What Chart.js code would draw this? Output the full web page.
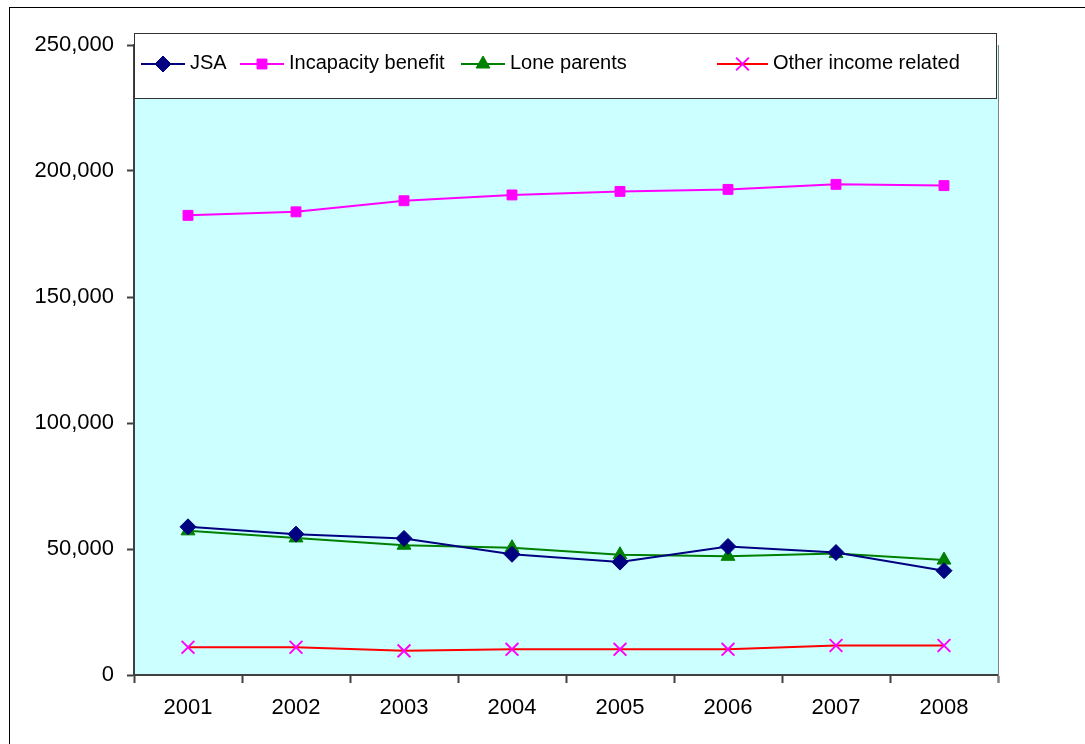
<!DOCTYPE html>
<html>
<head>
<meta charset="utf-8">
<title>Benefit claimants 2001-2008</title>
<script src="https://cdn.jsdelivr.net/npm/chart.js@4.4.1/dist/chart.umd.min.js"></script>
<style>
  html, body { margin: 0; padding: 0; background: #ffffff; }
  canvas { display: block; }
</style>
</head>
<body>
<canvas id="claimantsChart" width="1085" height="744"></canvas>
<script>
const years = ["2001", "2002", "2003", "2004", "2005", "2006", "2007", "2008"];
const jsa = [58800, 55900, 54200, 47900, 44800, 51000, 48600, 41400];
const incapacityBenefit = [182400, 183800, 188200, 190500, 191900, 192700, 194700, 194200];
const loneParents = [57200, 54400, 51500, 50500, 47700, 47100, 48200, 45600];
const otherIncomeRelated = [11000, 11000, 9600, 10200, 10200, 10200, 11700, 11700];
const yTicks = [0, 50000, 100000, 150000, 200000, 250000];

const FONT = "'Liberation Sans', Arial, sans-serif";

// legend entries: where each sample line starts and ends
const legendLineStart = [141, 240, 461, 717];
const legendLineEnd = [185, 284, 505, 768];

// plot background, legend box and the outer frame
const chartDecor = {
    id: "chartDecor",
    beforeDraw(chart) {
        const { ctx, chartArea: a } = chart;
        ctx.save();
        ctx.fillStyle = "#ccffff";
        ctx.fillRect(a.left, a.top, a.right - a.left, a.bottom - a.top);
        ctx.restore();
    },
    afterDraw(chart) {
        const { ctx, chartArea: a } = chart;
        ctx.save();

        // right edge of the plot area
        ctx.strokeStyle = "#808080";
        ctx.lineWidth = 1;
        ctx.beginPath();
        ctx.moveTo(a.right + 0.5, a.top);
        ctx.lineTo(a.right + 0.5, a.bottom + 8);
        ctx.stroke();

        // legend box
        const box = { left: a.left, top: 33, right: a.right - 2, bottom: 98 };
        ctx.fillStyle = "#ffffff";
        ctx.fillRect(box.left, box.top, box.right - box.left, box.bottom - box.top);
        ctx.strokeStyle = "#333333";
        ctx.strokeRect(box.left + 0.5, box.top + 0.5, box.right - box.left, box.bottom - box.top);

        const lineY = 64;
        chart.data.datasets.forEach((ds, i) => {
            const x0 = legendLineStart[i];
            const x1 = legendLineEnd[i];
            ctx.strokeStyle = ds.borderColor;
            ctx.lineWidth = 2;
            ctx.beginPath();
            ctx.moveTo(x0, lineY);
            ctx.lineTo(x1, lineY);
            ctx.stroke();

            ctx.fillStyle = ds.pointBackgroundColor;
            ctx.strokeStyle = ds.pointBorderColor;
            ctx.lineWidth = ds.pointBorderWidth;
            Chart.helpers.drawPoint(ctx, {
                pointStyle: ds.pointStyle,
                radius: ds.pointRadius,
                borderWidth: ds.pointBorderWidth,
                rotation: 0
            }, (x0 + x1) / 2, lineY);

            ctx.fillStyle = "#000000";
            ctx.font = "20px " + FONT;
            ctx.textBaseline = "middle";
            ctx.textAlign = "left";
            ctx.fillText(ds.label, x1 + 5, lineY - 1);
        });

        // outer frame
        ctx.strokeStyle = "#000000";
        ctx.lineWidth = 1;
        ctx.strokeRect(9.5, 7.5, 1200, 800);
        ctx.restore();
    }
};

function series(label, data, line, marker, style, radius, width) {
    return {
        label,
        data,
        borderColor: line,
        borderWidth: 2,
        backgroundColor: marker,
        pointStyle: style,
        pointRadius: radius,
        pointHoverRadius: radius,
        pointBackgroundColor: marker,
        pointBorderColor: marker,
        pointBorderWidth: width,
        tension: 0,
        fill: false
    };
}

const datasets = [
    series("JSA", jsa, "#000080", "#000080", "rectRot", 8, 1),
    series("Incapacity benefit", incapacityBenefit, "#ff00ff", "#ff00ff", "rect", 7, 1),
    series("Lone parents", loneParents, "#008000", "#008000", "triangle", 8, 1),
    series("Other income related", otherIncomeRelated, "#ff0000", "#ff00ff", "crossRot", 9, 2)
];

new Chart(document.getElementById("claimantsChart"), {
    type: "line",
    data: { labels: years, datasets },
    options: {
        responsive: false,
        animation: false,
        events: [],
        layout: { padding: { left: 10, right: 87, top: 45, bottom: 0 } },
        plugins: {
            legend: { display: false },
            tooltip: { enabled: false }
        },
        scales: {
            x: {
                type: "category",
                offset: true,
                grid: {
                    offset: true,
                    drawOnChartArea: false,
                    drawTicks: true,
                    tickLength: 8,
                    color: "#404040",
                    tickWidth: 2
                },
                border: { display: true, color: "#404040", width: 2 },
                ticks: {
                    color: "#000000",
                    font: { family: FONT, size: 22 },
                    padding: 12,
                    maxRotation: 0
                },
                afterFit(scale) { scale.height = 69; }
            },
            y: {
                min: 0,
                max: 250000,
                afterBuildTicks(scale) { scale.ticks = yTicks.map(v => ({ value: v })); },
                grid: {
                    drawOnChartArea: false,
                    drawTicks: true,
                    tickLength: 7,
                    color: "#404040",
                    tickWidth: 2
                },
                border: { display: true, color: "#404040", width: 2 },
                ticks: {
                    color: "#000000",
                    font: { family: FONT, size: 22 },
                    padding: 13,
                    callback: v => v.toLocaleString("en-US")
                },
                afterFit(scale) { scale.width = 124; }
            }
        }
    },
    plugins: [chartDecor]
});
</script>
</body>
</html>
